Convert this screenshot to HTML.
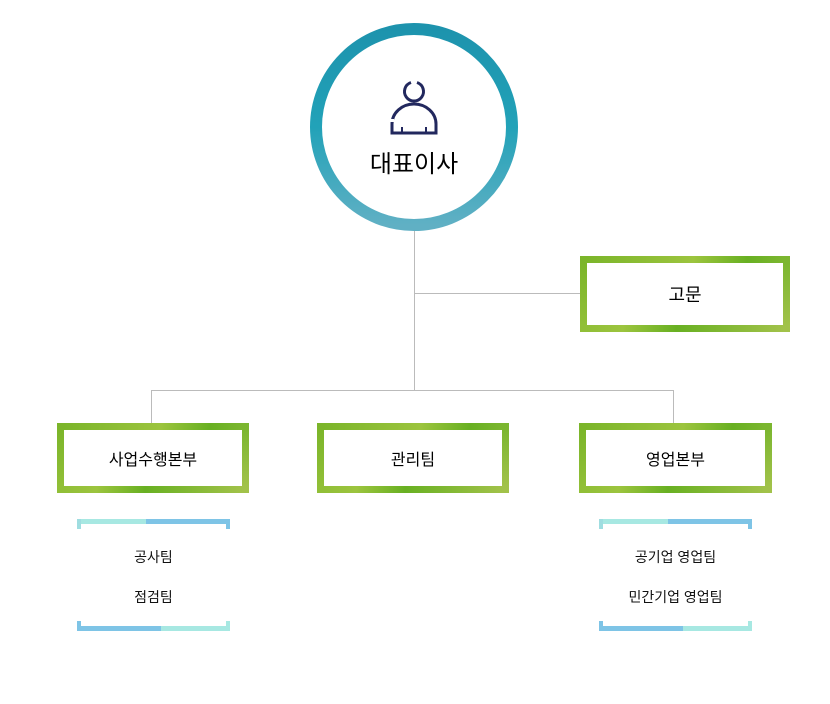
<!DOCTYPE html><html><head><meta charset="utf-8"><style>
body{margin:0;width:830px;height:704px;background:#fff;position:relative;font-family:"Liberation Sans","Noto Sans CJK KR",sans-serif;overflow:hidden}
.g{position:absolute;box-sizing:border-box;border:7px solid #86b92e;border-image:linear-gradient(135deg,#7bb52a,#9cc43e 40%,#68b022 60%,#a2c24a) 1;background:#fff;display:flex;align-items:center;justify-content:center;font-size:16px;color:#000}
.l{position:absolute;background:#bbb}
.br{position:absolute;width:153px;height:112px}
.t{position:absolute;width:100%;text-align:center;font-size:14px;color:#111}
</style></head><body>
<svg width="830" height="704" style="position:absolute;left:0;top:0">
<defs><linearGradient id="r" x1="0" y1="0" x2="0" y2="1"><stop offset="0" stop-color="#1d93ad"/><stop offset="0.5" stop-color="#22a2b8"/><stop offset="1" stop-color="#60b0c4"/></linearGradient></defs>
<circle cx="414" cy="127" r="98" fill="#fff" stroke="url(#r)" stroke-width="12"/>
<path d="M411 82.5 A9.5 9.5 0 1 0 417 82.5" fill="none" stroke="#22285e" stroke-width="3"/>
<path d="M392 133 V124 A22 20 0 0 1 436 124 V133 Z" fill="none" stroke="#22285e" stroke-width="3"/>
<path d="M392 122v-3" stroke="#fff" stroke-width="4"/>
<path d="M402 127v6M426 127v6" stroke="#22285e" stroke-width="2"/>
<text x="414" y="172" text-anchor="middle" font-size="24" fill="#000" font-family="Liberation Sans,Noto Sans CJK KR,sans-serif">대표이사</text>
</svg>
<div class="l" style="left:414px;top:231px;width:1px;height:160px"></div>
<div class="l" style="left:414px;top:293px;width:166px;height:1px"></div>
<div class="l" style="left:151px;top:390px;width:523px;height:1px"></div>
<div class="l" style="left:151px;top:390px;width:1px;height:33px"></div>
<div class="l" style="left:673px;top:390px;width:1px;height:33px"></div>
<div class="g" style="left:580px;top:256px;width:210px;height:76px;font-size:18px">고문</div>
<div class="g" style="left:57px;top:423px;width:192px;height:70px">사업수행본부</div>
<div class="g" style="left:317px;top:423px;width:192px;height:70px">관리팀</div>
<div class="g" style="left:579px;top:423px;width:193px;height:70px">영업본부</div>
<div class="br" style="left:77px;top:519px">
<div style="position:absolute;left:0;top:0;width:100%;height:5px;background:linear-gradient(90deg,#a7e8e2 45%,#7ec4e6 45%)"></div>
<div style="position:absolute;left:0;top:0;width:4px;height:10px;background:#9fdde0"></div>
<div style="position:absolute;right:0;top:0;width:4px;height:10px;background:#7ec4e6"></div>
<div style="position:absolute;left:0;bottom:0;width:100%;height:5px;background:linear-gradient(90deg,#7ec4e6 55%,#a7e8e2 55%)"></div>
<div style="position:absolute;left:0;bottom:0;width:4px;height:10px;background:#7ec4e6"></div>
<div style="position:absolute;right:0;bottom:0;width:4px;height:10px;background:#a7e8e2"></div>
<div class="t" style="top:28px">공사팀</div><div class="t" style="top:68px">점검팀</div></div>
<div class="br" style="left:599px;top:519px">
<div style="position:absolute;left:0;top:0;width:100%;height:5px;background:linear-gradient(90deg,#a7e8e2 45%,#7ec4e6 45%)"></div>
<div style="position:absolute;left:0;top:0;width:4px;height:10px;background:#9fdde0"></div>
<div style="position:absolute;right:0;top:0;width:4px;height:10px;background:#7ec4e6"></div>
<div style="position:absolute;left:0;bottom:0;width:100%;height:5px;background:linear-gradient(90deg,#7ec4e6 55%,#a7e8e2 55%)"></div>
<div style="position:absolute;left:0;bottom:0;width:4px;height:10px;background:#7ec4e6"></div>
<div style="position:absolute;right:0;bottom:0;width:4px;height:10px;background:#a7e8e2"></div>
<div class="t" style="top:28px">공기업 영업팀</div><div class="t" style="top:68px">민간기업 영업팀</div></div>
</body></html>
